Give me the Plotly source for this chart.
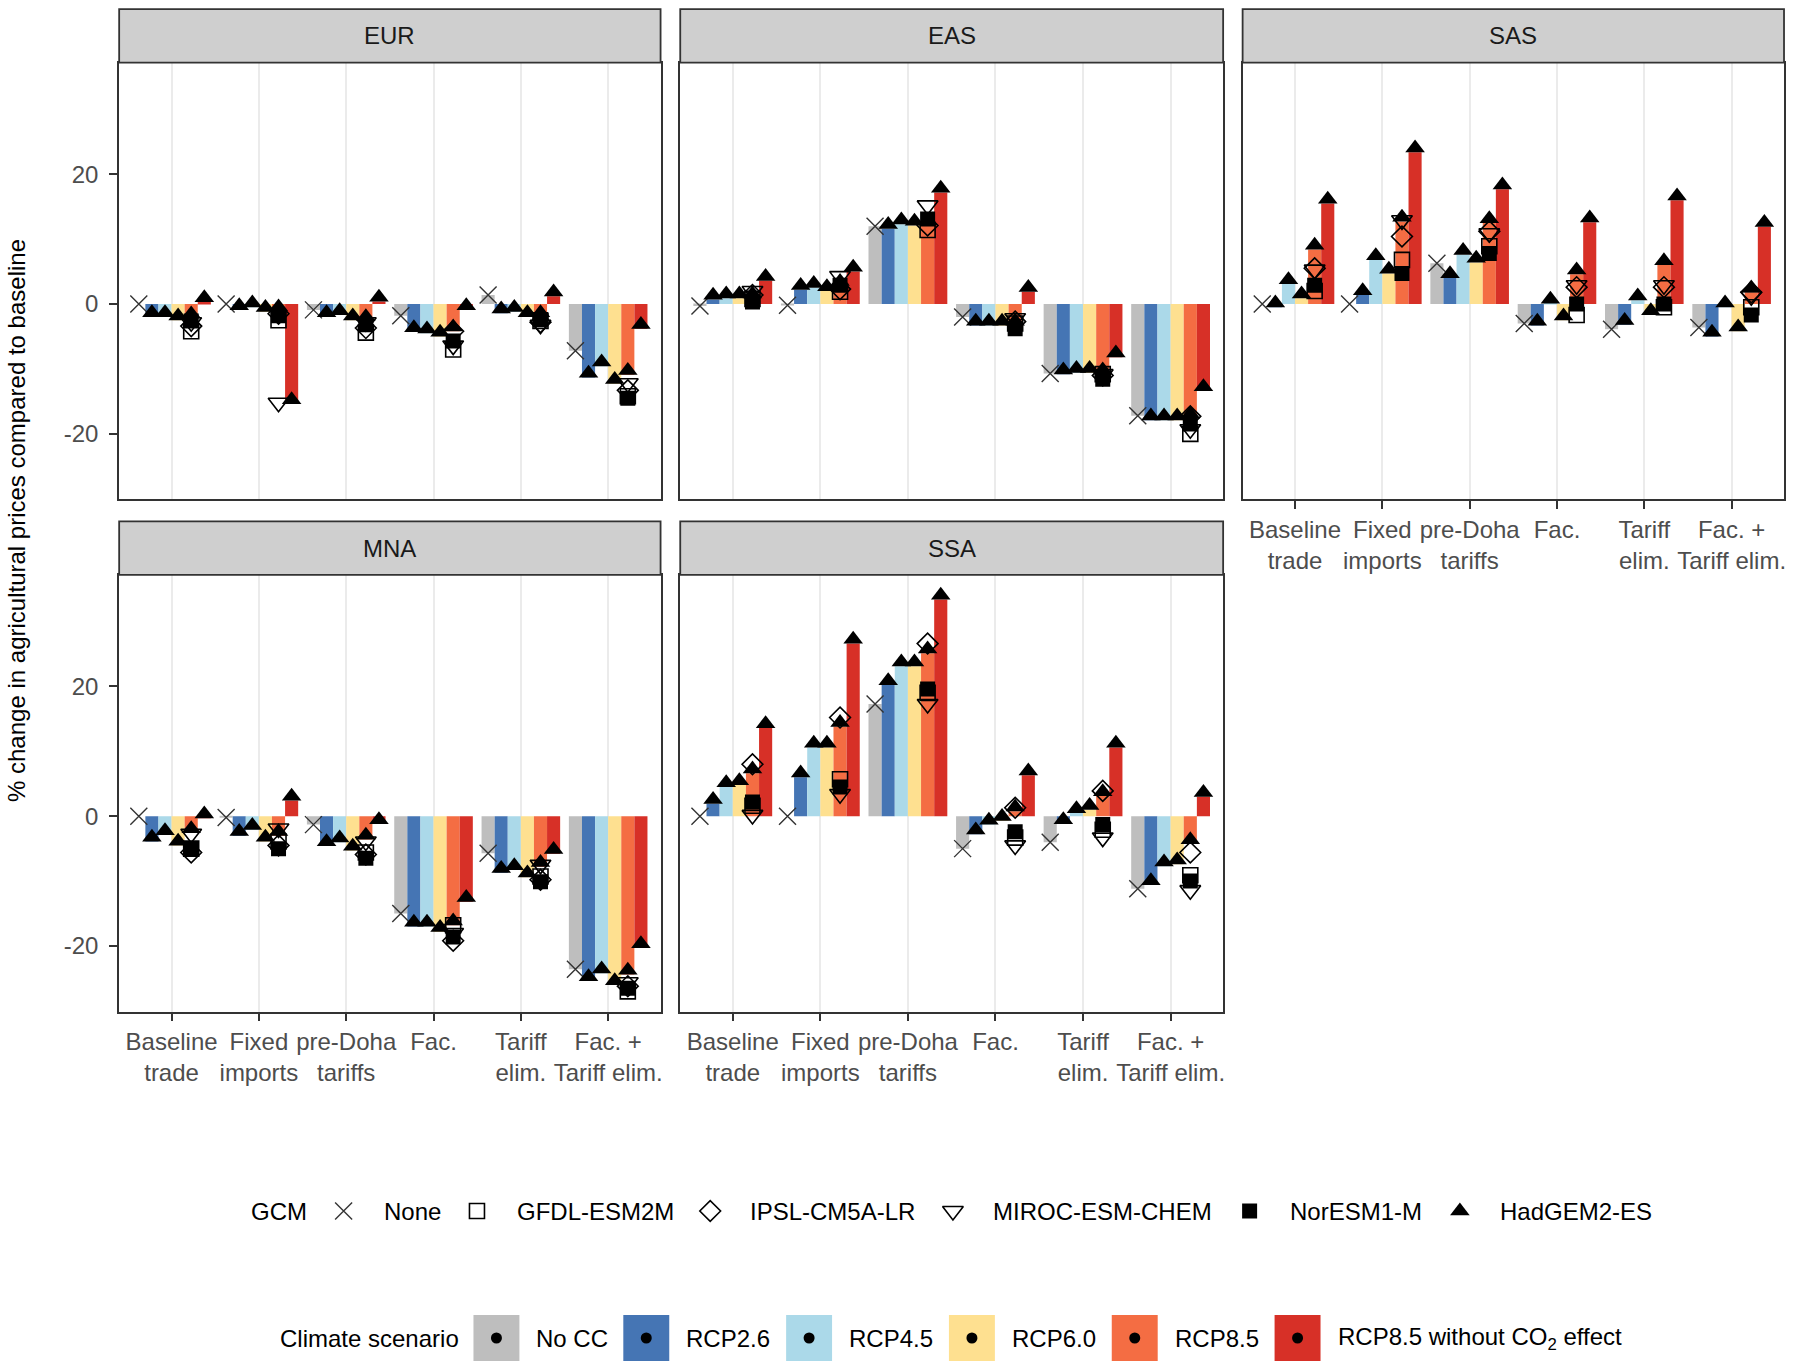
import plotly.graph_objects as go

# ---------------- categories ----------------
TRADE_LABELS = ["Baseline<br>trade", "Fixed<br>imports", "pre-Doha<br>tariffs",
                "Fac.", "Tariff<br>elim.", "Fac. +<br>Tariff elim."]
REGIONS = ["EUR", "EAS", "SAS", "MNA", "SSA"]
CLIMATE = ["No CC", "RCP2.6", "RCP4.5", "RCP6.0", "RCP8.5",
           "RCP8.5 without CO<sub>2</sub> effect"]
GCMS = ["None", "GFDL-ESM2M", "IPSL-CM5A-LR", "MIROC-ESM-CHEM", "NorESM1-M", "HadGEM2-ES"]
Y_TICKS = [-20, 0, 20]
Y_TICK_TEXT = ["-20", "0", "20"]

# ---------------- values (% change), order = TRADE_LABELS ----------------
# No CC uses GCM "None"; RCP bars are HadGEM2-ES; other GCMs only for RCP8.5
EUR_NO_CC = [0.0, 0.0, -0.9, -1.8, 1.4, -7.2]
EUR_RCP26 = [-2.0, -0.9, -2.0, -4.3, -1.4, -11.3]
EUR_RCP45 = [-2.0, -0.5, -1.7, -4.5, -1.2, -9.6]
EUR_RCP60 = [-2.5, -1.2, -2.5, -5.0, -2.0, -12.3]
EUR_RCP85 = [-2.2, -1.1, -2.6, -4.2, -2.0, -10.9]
EUR_RCP85_NOCO2 = [0.3, -15.4, 0.4, -0.9, 1.2, -3.8]
EUR_GFDL = [-4.2, -2.5, -4.4, -7.0, -2.6, -14.2]
EUR_IPSL = [-3.4, -1.5, -3.7, -4.2, -2.8, -13.3]
EUR_MIROC = [-2.8, -15.2, -2.8, -6.4, -3.2, -12.2]
EUR_NOR = [-2.6, -1.8, -3.2, -5.7, -2.4, -14.5]

EAS_NO_CC = [-0.3, -0.2, 12.0, -2.0, -10.7, -17.2]
EAS_RCP26 = [0.7, 2.2, 11.6, -3.3, -10.8, -17.9]
EAS_RCP45 = [0.9, 2.5, 12.3, -3.3, -10.6, -17.9]
EAS_RCP60 = [0.9, 2.0, 12.1, -3.3, -10.6, -17.9]
EAS_RCP85 = [0.9, 2.8, 12.2, -3.3, -10.8, -17.6]
EAS_RCP85_NOCO2 = [3.6, 5.0, 17.2, 1.9, -8.2, -13.4]
EAS_GFDL = [0.8, 1.9, 11.4, -3.0, -10.8, -20.0]
EAS_IPSL = [1.4, 2.3, 12.1, -2.7, -11.0, -17.3]
EAS_MIROC = [2.0, 4.3, 15.2, -2.2, -10.8, -19.3]
EAS_NOR = [0.3, 2.9, 13.1, -3.8, -11.6, -18.5]

SAS_NO_CC = [0.0, 0.0, 6.3, -3.0, -3.9, -3.6]
SAS_RCP26 = [-0.5, 1.4, 4.0, -3.3, -3.2, -5.0]
SAS_RCP45 = [3.1, 6.8, 7.6, 0.1, 0.6, -0.5]
SAS_RCP60 = [0.9, 4.7, 6.4, -2.5, -1.7, -4.2]
SAS_RCP85 = [8.4, 12.7, 12.5, 4.6, 6.0, 1.8]
SAS_RCP85_NOCO2 = [15.5, 23.4, 17.7, 12.6, 16.0, 11.9]
SAS_GFDL = [2.0, 6.8, 8.9, -1.7, -0.5, -0.5]
SAS_IPSL = [5.5, 10.4, 11.2, 2.6, 2.6, 1.8]
SAS_MIROC = [5.3, 12.9, 10.9, 2.9, 2.9, 1.2]
SAS_NOR = [2.9, 4.7, 7.8, 0.0, 0.0, -1.7]

MNA_NO_CC = [0.0, -0.2, -1.3, -15.0, -5.7, -23.6]
MNA_RCP26 = [-3.9, -3.0, -4.6, -17.0, -8.7, -25.4]
MNA_RCP45 = [-2.9, -2.1, -4.0, -17.0, -8.3, -24.2]
MNA_RCP60 = [-4.5, -3.9, -5.3, -17.8, -9.4, -26.0]
MNA_RCP85 = [-2.6, -3.0, -3.6, -16.8, -7.8, -24.4]
MNA_RCP85_NOCO2 = [-0.3, 2.4, -1.2, -13.2, -5.8, -20.3]
MNA_GFDL = [-5.0, -3.9, -5.6, -16.8, -9.3, -27.0]
MNA_IPSL = [-5.6, -4.5, -5.9, -19.2, -9.8, -26.2]
MNA_MIROC = [-2.7, -1.9, -3.9, -18.0, -7.5, -25.6]
MNA_NOR = [-5.0, -5.0, -6.5, -18.6, -10.1, -26.5]

SSA_NO_CC = [0.0, 0.0, 17.3, -5.0, -4.0, -11.2]
SSA_RCP26 = [1.9, 6.0, 20.2, -2.8, -1.2, -10.6]
SSA_RCP45 = [4.5, 10.6, 23.1, -1.3, 0.5, -7.7]
SSA_RCP60 = [4.8, 10.6, 23.1, -0.7, 1.0, -7.4]
SSA_RCP85 = [6.6, 13.8, 25.1, 0.75, 3.1, -4.3]
SSA_RCP85_NOCO2 = [13.6, 26.6, 33.4, 6.3, 10.6, 3.0]
SSA_GFDL = [1.6, 5.7, 19.0, -3.3, -2.1, -9.1]
SSA_IPSL = [8.0, 15.2, 26.6, 1.3, 3.9, -5.6]
SSA_MIROC = [0.2, 3.4, 17.3, -4.5, -3.3, -11.4]
SSA_NOR = [2.2, 4.5, 19.6, -2.4, -1.3, -10.0]

BAR_SERIES = {
    "EUR": [EUR_NO_CC, EUR_RCP26, EUR_RCP45, EUR_RCP60, EUR_RCP85, EUR_RCP85_NOCO2],
    "EAS": [EAS_NO_CC, EAS_RCP26, EAS_RCP45, EAS_RCP60, EAS_RCP85, EAS_RCP85_NOCO2],
    "SAS": [SAS_NO_CC, SAS_RCP26, SAS_RCP45, SAS_RCP60, SAS_RCP85, SAS_RCP85_NOCO2],
    "MNA": [MNA_NO_CC, MNA_RCP26, MNA_RCP45, MNA_RCP60, MNA_RCP85, MNA_RCP85_NOCO2],
    "SSA": [SSA_NO_CC, SSA_RCP26, SSA_RCP45, SSA_RCP60, SSA_RCP85, SSA_RCP85_NOCO2],
}
GCM_RCP85 = {
    "EUR": [EUR_GFDL, EUR_IPSL, EUR_MIROC, EUR_NOR],
    "EAS": [EAS_GFDL, EAS_IPSL, EAS_MIROC, EAS_NOR],
    "SAS": [SAS_GFDL, SAS_IPSL, SAS_MIROC, SAS_NOR],
    "MNA": [MNA_GFDL, MNA_IPSL, MNA_MIROC, MNA_NOR],
    "SSA": [SSA_GFDL, SSA_IPSL, SSA_MIROC, SSA_NOR],
}

# ---------------- styles ----------------
FONT = "Liberation Sans, Arial, sans-serif"
CLIMATE_COLORS = ["#BEBEBE", "#4575B4", "#ABD9E9", "#FEE090", "#F46D43", "#D73027"]
TRI_SIZE = 17
MARKER_STYLE = {
    "None": dict(symbol="x-thin", size=17, color="#333333", line=dict(width=1.4, color="#333333")),
    "GFDL-ESM2M": dict(symbol="square-open", size=15, color="black", line=dict(width=1.6)),
    "IPSL-CM5A-LR": dict(symbol="diamond-open", size=16, color="black", line=dict(width=1.6)),
    "MIROC-ESM-CHEM": dict(symbol="triangle-down-open", size=18, color="black", line=dict(width=1.6)),
    "NorESM1-M": dict(symbol="square", size=15, color="black", line=dict(width=0)),
    "HadGEM2-ES": dict(symbol="triangle-down", angle=180, standoff=TRI_SIZE / 4, size=TRI_SIZE,
                       color="black", line=dict(width=0)),
}

# ---------------- geometry (pixels) ----------------
W, H = 1800, 1371
COLS_PX = [(119.3, 661.3), (681.0, 1224.5), (1244.0, 1786.0)]
ROWS_PX = [(62.6, 499.4), (574.8, 1011.5)]
STRIP_H = 53.5
PANELS = {"EUR": (0, 0), "EAS": (1, 0), "SAS": (2, 0), "MNA": (0, 1), "SSA": (1, 1)}
Y_RANGE = [-30.1, 37.2]
X_RANGE = [0.4, 6.6]
BAR_W = 0.15
OFFSETS = [(k - 2.5) * BAR_W for k in range(len(CLIMATE))]
XPOS = list(range(1, len(TRADE_LABELS) + 1))

fig = go.Figure()
layout = dict(
    width=W, height=H, margin=dict(l=0, r=0, t=0, b=0),
    paper_bgcolor="white", plot_bgcolor="rgba(0,0,0,0)",
    barmode="overlay", showlegend=False,
    font=dict(family=FONT, size=24, color="black"),
)
shapes, annotations = [], []

for i, reg in enumerate(REGIONS):
    sfx = "" if i == 0 else str(i + 1)
    xa, ya = "x" + sfx, "y" + sfx
    series = BAR_SERIES[reg]
    for k, vals in enumerate(series):
        fig.add_trace(go.Bar(
            x=[p + OFFSETS[k] for p in XPOS], y=vals, width=BAR_W,
            marker=dict(color=CLIMATE_COLORS[k], line=dict(width=0)),
            name=CLIMATE[k], xaxis=xa, yaxis=ya))
    fig.add_trace(go.Scatter(
        x=[p + OFFSETS[0] for p in XPOS], y=series[0], mode="markers",
        marker=MARKER_STYLE["None"], name="None", xaxis=xa, yaxis=ya))
    for g, vals in zip(GCMS[1:5], GCM_RCP85[reg]):
        fig.add_trace(go.Scatter(
            x=[p + OFFSETS[4] for p in XPOS], y=vals, mode="markers",
            marker=MARKER_STYLE[g], name=g, xaxis=xa, yaxis=ya))
    hx, hy = [], []
    for k in range(1, len(CLIMATE)):
        hx += [p + OFFSETS[k] for p in XPOS]
        hy += series[k]
    fig.add_trace(go.Scatter(x=hx, y=hy, mode="markers", marker=MARKER_STYLE["HadGEM2-ES"],
                             name="HadGEM2-ES", xaxis=xa, yaxis=ya))

    col, row = PANELS[reg]
    x0, x1 = COLS_PX[col]
    y0, y1 = ROWS_PX[row]
    bottom = reg in ("SAS", "MNA", "SSA")
    left = col == 0
    layout["xaxis" + sfx] = dict(
        domain=[x0 / W, x1 / W], anchor=ya, range=X_RANGE,
        tickmode="array", tickvals=XPOS, ticktext=TRADE_LABELS, tickangle=0,
        showticklabels=bottom, ticks="outside" if bottom else "",
        ticklen=8, tickwidth=1.8, tickcolor="#333333", ticklabelstandoff=0,
        tickfont=dict(size=24, color="#4D4D4D", family=FONT),
        showgrid=True, gridcolor="#EBEBEB", gridwidth=1.6,
        zeroline=False, showline=True, mirror=True, linecolor="#333333", linewidth=1.8,
        fixedrange=True)
    layout["yaxis" + sfx] = dict(
        domain=[1 - y1 / H, 1 - y0 / H], anchor=xa, range=Y_RANGE,
        tickmode="array", tickvals=Y_TICKS, ticktext=Y_TICK_TEXT,
        showticklabels=left, ticks="outside" if left else "",
        ticklen=8, tickwidth=1.8, tickcolor="#333333", ticklabelstandoff=6,
        tickfont=dict(size=24, color="#4D4D4D", family=FONT),
        showgrid=False, zeroline=False, showline=True, mirror=True,
        linecolor="#333333", linewidth=1.8, fixedrange=True)
    # facet strip
    shapes.append(dict(type="rect", xref="paper", yref="paper",
                       x0=x0 / W, x1=x1 / W, y0=1 - y0 / H, y1=1 - (y0 - STRIP_H) / H,
                       fillcolor="#CFCFCF", line=dict(color="#333333", width=1.8), layer="above"))
    annotations.append(dict(text=reg, xref="paper", yref="paper",
                            x=(x0 + x1) / 2 / W, y=1 - (y0 - STRIP_H / 2) / H,
                            showarrow=False, xanchor="center", yanchor="middle",
                            font=dict(size=24, color="#1A1A1A", family=FONT)))

# y-axis title
annotations.append(dict(text="% change in agricultural prices compared to baseline",
                        xref="paper", yref="paper", x=16 / W, y=1 - 520 / H,
                        textangle=-90, showarrow=False, xanchor="center", yanchor="middle",
                        font=dict(size=24, color="black", family=FONT)))

# ---------------- legends (drawn on a pixel overlay axis) ----------------
layout["xaxis6"] = dict(domain=[0, 1], anchor="y6", range=[0, W], visible=False, fixedrange=True)
layout["yaxis6"] = dict(domain=[0, 1], anchor="x6", range=[H, 0], visible=False, fixedrange=True)

GCM_LEG_Y = 1211
GCM_TITLE_X = 249
GCM_SYM_X = [344, 477.5, 711, 954, 1251, 1461.5]
GCM_LABEL_X = [382, 516, 748.5, 992, 1289, 1499.5]
CLIM_LEG_Y = 1338
CLIM_TITLE_X = 278
CLIM_BOX_X = [474, 624, 787, 950, 1113, 1276]
BOX = 46

annotations.append(dict(text="GCM", xref="x6", yref="y6", x=GCM_TITLE_X, y=GCM_LEG_Y,
                        showarrow=False, xanchor="left", yanchor="middle",
                        font=dict(size=24, color="black", family=FONT)))
for g, sx, lx in zip(GCMS, GCM_SYM_X, GCM_LABEL_X):
    st = dict(MARKER_STYLE[g])
    st.pop("standoff", None)
    if g == "HadGEM2-ES":
        st["symbol"] = "triangle-up"
        st.pop("angle", None)
    fig.add_trace(go.Scatter(x=[sx], y=[GCM_LEG_Y], mode="markers", marker=st,
                             xaxis="x6", yaxis="y6", hoverinfo="skip", name=g))
    annotations.append(dict(text=g, xref="x6", yref="y6", x=lx, y=GCM_LEG_Y,
                            showarrow=False, xanchor="left", yanchor="middle",
                            font=dict(size=24, color="black", family=FONT)))

annotations.append(dict(text="Climate scenario", xref="x6", yref="y6", x=CLIM_TITLE_X, y=CLIM_LEG_Y,
                        showarrow=False, xanchor="left", yanchor="middle",
                        font=dict(size=24, color="black", family=FONT)))
for c, col_, bx in zip(CLIMATE, CLIMATE_COLORS, CLIM_BOX_X):
    shapes.append(dict(type="rect", xref="x6", yref="y6", x0=bx, x1=bx + BOX,
                       y0=CLIM_LEG_Y - BOX / 2, y1=CLIM_LEG_Y + BOX / 2,
                       fillcolor=col_, line=dict(width=0), layer="below"))
    annotations.append(dict(text=c, xref="x6", yref="y6", x=bx + BOX + 15, y=CLIM_LEG_Y,
                            showarrow=False, xanchor="left", yanchor="middle",
                            font=dict(size=24, color="black", family=FONT)))
fig.add_trace(go.Scatter(x=[bx + BOX / 2 for bx in CLIM_BOX_X], y=[CLIM_LEG_Y] * len(CLIM_BOX_X),
                         mode="markers", marker=dict(symbol="circle", size=11, color="black"),
                         xaxis="x6", yaxis="y6", hoverinfo="skip", name="key"))

layout["shapes"] = shapes
layout["annotations"] = annotations
fig.update_layout(**layout)
fig.write_html("out.html", config={"displayModeBar": False},
               post_script="document.body.style.margin='0';document.body.style.padding='0';")
